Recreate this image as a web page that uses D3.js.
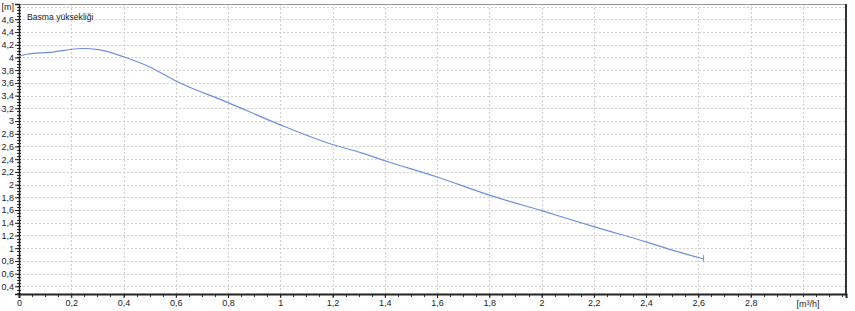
<!DOCTYPE html>
<html>
<head>
<meta charset="utf-8">
<script src="https://cdn.jsdelivr.net/npm/d3@7"></script>
<style>
  body { margin: 0; background: #fff; }
  svg text { font-family: "Liberation Sans", Arial, sans-serif; font-size: 9px; fill: #222; }
</style>
</head>
<body>
<div id="chart"></div>
<script>
// Pump curve: head (m) over flow (m³/h)
const flow = [0, 0.03, 0.12, 0.24, 0.31, 0.4, 0.5, 0.6, 0.8, 1.0, 1.2, 1.31, 1.4, 1.6, 1.8, 2.0, 2.2, 2.3, 2.4, 2.5, 2.62];
const head = [4.02, 4.05, 4.08, 4.14, 4.12, 4.01, 3.85, 3.63, 3.29, 2.94, 2.63, 2.5, 2.375, 2.12, 1.835, 1.59, 1.34, 1.22, 1.10, 0.97, 0.83];

const xTicks = [0, 0.2, 0.4, 0.6, 0.8, 1, 1.2, 1.4, 1.6, 1.8, 2, 2.2, 2.4, 2.6, 2.8];
const yTicks = [0.4, 0.6, 0.8, 1, 1.2, 1.4, 1.6, 1.8, 2, 2.2, 2.4, 2.6, 2.8, 3, 3.2, 3.4, 3.6, 3.8, 4, 4.2, 4.4, 4.6];
const xGrid = [0.2, 0.4, 0.6, 0.8, 1, 1.2, 1.4, 1.6, 1.8, 2, 2.2, 2.4, 2.6, 2.8, 3];
const yGrid = [0.4, 0.6, 0.8, 1, 1.2, 1.4, 1.6, 1.8, 2, 2.2, 2.4, 2.6, 2.8, 3, 3.2, 3.4, 3.6, 3.8, 4, 4.2, 4.4, 4.6, 4.8];
const xUnit = "[m³/h]";
const yUnit = "[m]";
const seriesName = "Basma yüksekliği";

const W = 855, H = 311;
const plot = { left: 19, right: 846, top: 4, bottom: 294 };

const x = d3.scaleLinear().domain([0, 3.165]).range([plot.left, plot.right]);
const y = d3.scaleLinear().domain([0.28, 4.84]).range([plot.bottom, plot.top]);

const fmt = v => String(+v.toFixed(2)).replace(".", ",");

const svg = d3.select("#chart").append("svg")
  .attr("width", W)
  .attr("height", H);

// grid
svg.append("g").selectAll("line")
  .data(yGrid)
  .join("line")
  .attr("x1", plot.left).attr("x2", plot.right)
  .attr("y1", d => Math.round(y(d)) + 0.5).attr("y2", d => Math.round(y(d)) + 0.5)
  .attr("stroke", "#cfcfcf")
  .attr("stroke-dasharray", "2,2");

svg.append("g").selectAll("line")
  .data(xGrid)
  .join("line")
  .attr("x1", d => Math.round(x(d)) + 0.5).attr("x2", d => Math.round(x(d)) + 0.5)
  .attr("y1", plot.top).attr("y2", plot.bottom)
  .attr("stroke", "#cfcfcf")
  .attr("stroke-dasharray", "2,2");

// frame: top gray, right dark
svg.append("line")
  .attr("x1", plot.left).attr("x2", plot.right)
  .attr("y1", plot.top + 0.5).attr("y2", plot.top + 0.5)
  .attr("stroke", "#999");
svg.append("line")
  .attr("x1", plot.right).attr("x2", plot.right)
  .attr("y1", plot.top).attr("y2", plot.bottom + 1)
  .attr("stroke", "#333").attr("stroke-width", 2);

// minor ticks
const yMinor = d3.range(0.3, 4.85, 0.05);
svg.append("g").selectAll("line")
  .data(yMinor)
  .join("line")
  .attr("x1", plot.left - 2).attr("x2", plot.left + 2)
  .attr("y1", d => Math.round(y(d)) + 0.5).attr("y2", d => Math.round(y(d)) + 0.5)
  .attr("stroke", "#333");

const xMinor = d3.range(0, 3.16, 0.05);
svg.append("g").selectAll("line")
  .data(xMinor)
  .join("line")
  .attr("x1", d => Math.round(x(d)) + 0.5).attr("x2", d => Math.round(x(d)) + 0.5)
  .attr("y1", plot.bottom).attr("y2", plot.bottom + 3)
  .attr("stroke", "#333");

// axes
const yAxis = svg.append("g")
  .attr("transform", `translate(${plot.left},0)`)
  .call(d3.axisLeft(y).tickValues(yTicks).tickFormat(fmt).tickSize(4).tickPadding(1));
yAxis.select(".domain").attr("stroke", "#222").attr("stroke-width", 1.5);
yAxis.selectAll(".tick line").attr("stroke", "#222");

const xAxis = svg.append("g")
  .attr("transform", `translate(0,${plot.bottom})`)
  .call(d3.axisBottom(x).tickValues(xTicks).tickFormat(fmt).tickSize(4).tickPadding(2));
xAxis.select(".domain").attr("stroke", "#222").attr("stroke-width", 2);
xAxis.selectAll(".tick line").attr("stroke", "#222");
svg.selectAll(".tick text").style("font-size", "9px").attr("fill", "#222");

// unit labels
svg.append("text")
  .attr("x", plot.left - 5).attr("y", y(4.8) + 3)
  .attr("text-anchor", "end")
  .text(yUnit);
svg.append("text")
  .attr("x", 808).attr("y", plot.bottom + 13)
  .attr("text-anchor", "middle")
  .text(xUnit);

// series label
svg.append("text")
  .attr("x", 27).attr("y", 20)
  .style("font-size", "8.6px")
  .text(seriesName);

// curve
const pts = flow.map((f, i) => [f, head[i]]);
const line = d3.line().x(d => x(d[0])).y(d => y(d[1])).curve(d3.curveMonotoneX);
svg.append("path")
  .datum(pts)
  .attr("d", line)
  .attr("fill", "none")
  .attr("stroke", "#6f8fd6")
  .attr("stroke-width", 1.2);

// end marker
const last = pts[pts.length - 1];
svg.append("line")
  .attr("x1", x(last[0])).attr("x2", x(last[0]))
  .attr("y1", y(last[1]) - 4).attr("y2", y(last[1]) + 3)
  .attr("stroke", "#6f8fd6");
</script>
</body>
</html>
